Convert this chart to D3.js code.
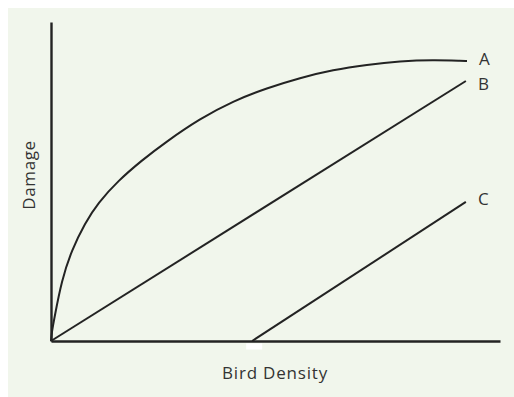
<!DOCTYPE html>
<html>
<head>
<meta charset="utf-8">
<script src="https://cdn.jsdelivr.net/npm/d3@7/dist/d3.min.js"></script>
<style>
  html, body { margin: 0; padding: 0; background: #ffffff; }
  svg { display: block; }
  text { font-family: "Open Sans", "DejaVu Sans", sans-serif; fill: #333333; }
</style>
</head>
<body>
<svg id="chart" width="514" height="397"></svg>
<script>
// ---- data (arbitrary units) ----
const curveA = [
  [0, 0], [0.02, 0.30], [0.067, 0.66], [0.238, 1.91], [0.461, 2.85], [0.757, 3.70],
  [1.047, 4.33], [1.492, 5.02], [2.020, 5.66], [2.539, 6.22], [3.318, 6.97],
  [4.053, 7.52], [4.811, 7.93], [5.546, 8.25], [6.281, 8.50], [7.038, 8.66],
  [7.773, 8.77], [8.508, 8.81], [9.20, 8.78], [9.265, 8.78]
];
const lineB = [[0, 0], [9.24, 8.15]];
const lineC = [[4.48, 0], [9.24, 4.36]];
const seriesNames = ["A", "B", "C"];
const xTitle = "Bird Density";
const yTitle = "Damage";

// ---- layout ----
const W = 514, H = 397;
const svg = d3.select("#chart");
svg.append("rect").attr("x", 8).attr("y", 8).attr("width", W - 8).attr("height", H - 8)
  .attr("fill", "#f1f6ec");

const x = d3.scaleLinear().domain([0, 10]).range([51, 500]);
const y = d3.scaleLinear().domain([0, 10]).range([341, 22]);

const ink = "#232323";

// axes (no ticks)
svg.append("g").attr("transform", `translate(0,${y(0)})`)
  .call(d3.axisBottom(x).tickValues([]).tickSizeOuter(0))
  .call(g => g.select(".domain").attr("stroke", ink).attr("stroke-width", 2.4));
svg.append("g").attr("transform", `translate(${x(0)},0)`)
  .call(d3.axisLeft(y).tickValues([]).tickSizeOuter(0))
  .call(g => g.select(".domain").attr("stroke", ink).attr("stroke-width", 2.4));

// small white notch under x axis at start of C
svg.append("rect").attr("x", x(lineC[0][0]) - 6).attr("y", y(0) + 2.5)
  .attr("width", 16).attr("height", 6).attr("fill", "#ffffff");

const lineGen = d3.line().x(d => x(d[0])).y(d => y(d[1]));
const curveGen = d3.line().x(d => x(d[0])).y(d => y(d[1])).curve(d3.curveBasis);

const series = [curveA, lineB, lineC];
series.forEach((data, i) => {
  svg.append("path").datum(data)
    .attr("d", i === 0 ? curveGen : lineGen)
    .attr("fill", "none").attr("stroke", ink).attr("stroke-width", 2)
    .attr("stroke-linecap", "butt");
});

// end labels
const labelDy = [-2, 2, -3];
series.forEach((data, i) => {
  const last = data[data.length - 1];
  svg.append("text")
    .attr("x", x(last[0]) + 12)
    .attr("y", y(last[1]) + labelDy[i])
    .attr("dominant-baseline", "central")
    .attr("font-size", 17)
    .text(seriesNames[i]);
});

// axis titles
svg.append("text").attr("x", 275).attr("y", 379).attr("text-anchor", "middle")
  .attr("font-size", 17).attr("letter-spacing", 0.8).text(xTitle);
svg.append("text").attr("transform", "translate(35,175) rotate(-90)")
  .attr("text-anchor", "middle").attr("font-size", 17).attr("letter-spacing", 0.6).text(yTitle);
</script>
</body>
</html>
